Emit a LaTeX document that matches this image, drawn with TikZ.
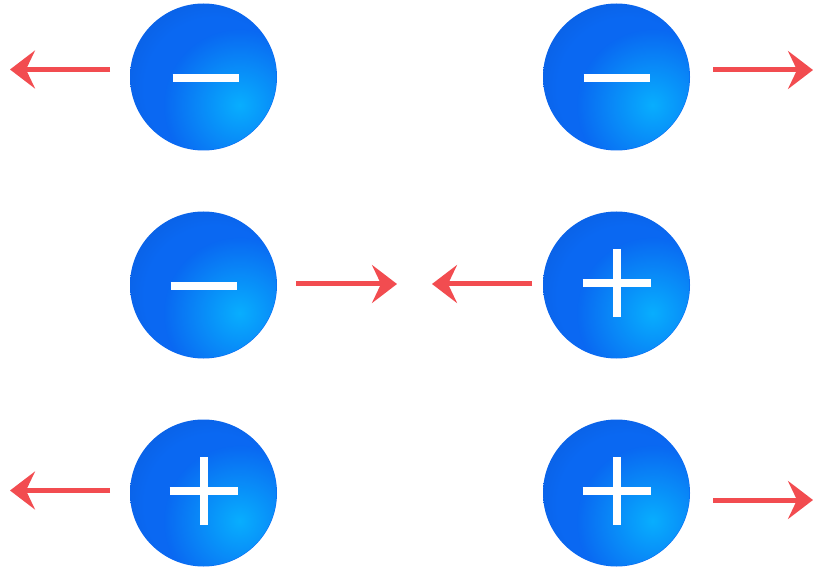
\documentclass[tikz,border=0pt]{standalone}
\usetikzlibrary{arrows.meta,fadings}
\definecolor{hl}{HTML}{08B2FF}
\definecolor{mid}{HTML}{0A68F2}
\definecolor{dark}{HTML}{0B46B0}
\definecolor{arrowred}{HTML}{F24C50}
\tikzfading[name=glow, inner color=transparent!0, outer color=transparent!100]
\pgfdeclareradialshading{ballbase}{\pgfpoint{5bp}{-5bp}}{%
  color(0bp)=(mid); color(24bp)=(mid); color(40bp)=(mid!60!dark); color(55bp)=(dark); color(100bp)=(dark)}
\tikzset{
  ball/.style={circle, minimum size=147pt, inner sep=0pt, shading=ballbase},
  signbar/.style={white, line width=8pt, line cap=butt},
  force/.style={arrowred, line width=5pt, -{Stealth[length=25pt, width=38pt, inset=9pt]}}
}
\begin{document}
\begin{tikzpicture}[x=1pt, y=-1pt]
\useasboundingbox (0,0) rectangle (814,569);
% charges
\node[ball] (b1) at (203.5,77) {};
\node[ball] (b2) at (616.5,77) {};
\node[ball] (b3) at (203.5,285) {};
\node[ball] (b4) at (616.5,285) {};
\node[ball] (b5) at (203.5,493) {};
\node[ball] (b6) at (616.5,493) {};
% highlights
\foreach \b in {b1,b2,b3,b4,b5,b6}{
  \begin{scope}
    \clip (\b.center) circle (73pt);
    \fill[hl, path fading=glow, fill opacity=0.95] ([shift={(36,28)}]\b.center) circle (76pt);
  \end{scope}
}
% minus signs
\draw[signbar] ([shift={(-31,1)}]b1.center) -- ([shift={(35,1)}]b1.center);
\draw[signbar] ([shift={(-33,1)}]b2.center) -- ([shift={(33,1)}]b2.center);
\draw[signbar] ([shift={(-33,1)}]b3.center) -- ([shift={(33,1)}]b3.center);
% plus signs
\foreach \b in {b4,b5,b6}{
  \draw[signbar] ([shift={(-34,-2)}]\b.center) -- ([shift={(34,-2)}]\b.center);
  \draw[signbar] ([shift={(0,-36)}]\b.center) -- ([shift={(0,32)}]\b.center);
}
% arrow end points
\coordinate (t1s) at (110,69.5);  \coordinate (t1e) at (10,69.5);
\coordinate (t2s) at (713,70);    \coordinate (t2e) at (813,70);
\coordinate (m1s) at (296,284);   \coordinate (m1e) at (397,284);
\coordinate (m2s) at (532,284);   \coordinate (m2e) at (432,284);
\coordinate (l1s) at (110,490.5); \coordinate (l1e) at (10,490.5);
\coordinate (l2s) at (713,500);   \coordinate (l2e) at (813,500);
\draw[force] (t1s) -- (t1e);
\draw[force] (t2s) -- (t2e);
\draw[force] (m1s) -- (m1e);
\draw[force] (m2s) -- (m2e);
\draw[force] (l1s) -- (l1e);
\draw[force] (l2s) -- (l2e);
\end{tikzpicture}
\end{document}
